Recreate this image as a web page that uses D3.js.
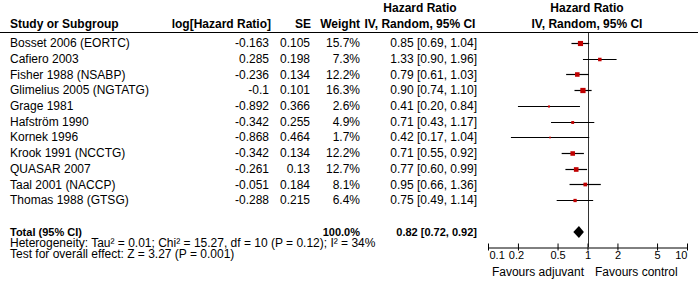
<!DOCTYPE html>
<meta charset="utf-8" />
<script src="https://d3js.org/d3.v7.min.js"></script>
<style>
  body { margin: 0; background: white; }
  svg { font-family: Arial, "Liberation Sans", sans-serif; }
  .hd { font-weight: bold; font-size: 12px; }
  .cell { font-size: 12px; }
  .foot { font-size: 12px; }
</style>
<body>
<svg id="forest" width="698" height="288"></svg>
<script>
  // study rows
  const studies = ["Bosset 2006 (EORTC)", "Cafiero 2003", "Fisher 1988 (NSABP)", "Glimelius 2005 (NGTATG)",
    "Grage 1981", "Hafström 1990", "Kornek 1996", "Krook 1991 (NCCTG)", "QUASAR 2007",
    "Taal 2001 (NACCP)", "Thomas 1988 (GTSG)"];
  const logHR = ["-0.163", "0.285", "-0.236", "-0.1", "-0.892", "-0.342", "-0.868", "-0.342", "-0.261", "-0.051", "-0.288"];
  const se = ["0.105", "0.198", "0.134", "0.101", "0.366", "0.255", "0.464", "0.134", "0.13", "0.184", "0.215"];
  const weight = [15.7, 7.3, 12.2, 16.3, 2.6, 4.9, 1.7, 12.2, 12.7, 8.1, 6.4];
  const hr = [0.85, 1.33, 0.79, 0.90, 0.41, 0.71, 0.42, 0.71, 0.77, 0.95, 0.75];
  const lower = [0.69, 0.90, 0.61, 0.74, 0.20, 0.43, 0.17, 0.55, 0.60, 0.66, 0.49];
  const upper = [1.04, 1.96, 1.03, 1.10, 0.84, 1.17, 1.04, 0.92, 0.99, 1.36, 1.14];

  // pooled estimate
  const total = {hr: 0.82, lo: 0.72, hi: 0.92};
  const axisTicks = [0.1, 0.2, 0.5, 1, 2, 5, 10];

  const svg = d3.select("#forest");
  const width = +svg.attr("width");

  const x = d3.scaleLog().domain([0.1, 10]).range([488, 687]);
  const y = d3.scalePoint().domain(studies).range([43, 200]);
  const yTotal = 232, yAxis = 247;

  const fmt = d3.format(".2f");

  // headers
  const hdr = svg.append("g").attr("class", "hd");
  hdr.append("text").attr("x", 10).attr("y", 28).text("Study or Subgroup");
  hdr.append("text").attr("x", 271).attr("y", 28).attr("text-anchor", "end").text("log[Hazard Ratio]");
  hdr.append("text").attr("x", 311).attr("y", 28).attr("text-anchor", "end").text("SE");
  hdr.append("text").attr("x", 360).attr("y", 28).attr("text-anchor", "end").text("Weight");
  hdr.append("text").attr("x", 420).attr("y", 12).attr("text-anchor", "middle").text("Hazard Ratio");
  hdr.append("text").attr("x", 420).attr("y", 28).attr("text-anchor", "middle").text("IV, Random, 95% CI");
  hdr.append("text").attr("x", 587).attr("y", 12).attr("text-anchor", "middle").text("Hazard Ratio");
  hdr.append("text").attr("x", 587).attr("y", 28).attr("text-anchor", "middle").text("IV, Random, 95% CI");

  svg.append("line").attr("x1", 0).attr("x2", width).attr("y1", 32.5).attr("y2", 32.5)
    .attr("stroke", "black").attr("stroke-width", 1);

  // table rows
  const rows = svg.append("g").attr("class", "cell").selectAll("g")
    .data(studies).join("g")
    .attr("transform", d => `translate(0,${y(d)})`);
  rows.append("text").attr("x", 10).attr("dy", "0.35em").text(d => d);
  rows.append("text").attr("x", 269).attr("dy", "0.35em").attr("text-anchor", "end").text((d, i) => logHR[i]);
  rows.append("text").attr("x", 310).attr("dy", "0.35em").attr("text-anchor", "end").text((d, i) => se[i]);
  rows.append("text").attr("x", 360).attr("dy", "0.35em").attr("text-anchor", "end").text((d, i) => weight[i].toFixed(1) + "%");
  rows.append("text").attr("x", 477).attr("dy", "0.35em").attr("text-anchor", "end")
    .text((d, i) => `${fmt(hr[i])} [${fmt(lower[i])}, ${fmt(upper[i])}]`);

  // line of no effect
  svg.append("line").attr("x1", Math.round(x(1)) + 0.5).attr("x2", Math.round(x(1)) + 0.5)
    .attr("y1", 33).attr("y2", yAxis).attr("stroke", "#333");

  // CI lines and squares
  const plot = svg.append("g").selectAll("g").data(studies).join("g");
  plot.append("line")
    .attr("x1", (d, i) => x(lower[i])).attr("x2", (d, i) => x(upper[i]))
    .attr("y1", d => Math.round(y(d)) + 0.5).attr("y2", d => Math.round(y(d)) + 0.5)
    .attr("stroke", "black").attr("stroke-width", 1.2);
  plot.append("rect")
    .each(function (d, i) {
      const s = 1.3 * Math.sqrt(weight[i]);
      d3.select(this).attr("x", x(hr[i]) - s / 2).attr("y", Math.round(y(d)) + 0.5 - s / 2)
        .attr("width", s).attr("height", s);
    })
    .attr("fill", "#c00000");

  // total row
  const tot = svg.append("g").attr("class", "hd").style("font-size", "11px");
  tot.append("text").attr("x", 10).attr("y", yTotal).attr("dy", "0.35em").text("Total (95% CI)");
  tot.append("text").attr("x", 360).attr("y", yTotal).attr("dy", "0.35em").attr("text-anchor", "end").text("100.0%");
  tot.append("text").attr("x", 477).attr("y", yTotal).attr("dy", "0.35em").attr("text-anchor", "end")
    .text(`${fmt(total.hr)} [${fmt(total.lo)}, ${fmt(total.hi)}]`);

  svg.append("path")
    .attr("d", `M${x(total.lo)},${yTotal} L${x(total.hr)},${yTotal - 6} L${x(total.hi)},${yTotal} L${x(total.hr)},${yTotal + 6} Z`)
    .attr("fill", "black");

  const foot = svg.append("g").attr("class", "foot");
  foot.append("text").attr("x", 10).attr("y", 243).attr("dy", "0.35em")
    .text("Heterogeneity: Tau\u00b2 = 0.01; Chi\u00b2 = 15.27, df = 10 (P = 0.12); I\u00b2 = 34%");
  foot.append("text").attr("x", 10).attr("y", 254).attr("dy", "0.35em")
    .text("Test for overall effect: Z = 3.27 (P = 0.001)");

  // axis
  const axis = d3.axisBottom(x).tickValues(axisTicks).tickFormat(d => d).tickSizeInner(-4).tickSizeOuter(0).tickPadding(6);
  const ag = svg.append("g").attr("transform", `translate(0,${yAxis + 0.5})`).call(axis);
  ag.select(".domain").attr("stroke", "black");
  ag.selectAll(".tick line").attr("stroke", "black").attr("y1", 3);
  ag.selectAll(".tick text").attr("font-size", 11).attr("font-family", "Arial, 'Liberation Sans', sans-serif")
    .attr("y", 4).attr("dy", "0.71em").attr("fill", "black")
    .attr("text-anchor", d => d === 0.1 ? "start" : d === 10 ? "end" : "middle")
    .attr("x", d => d === 0.1 ? 1 : d === 0.2 ? -2 : 0);

  const fav = svg.append("g").attr("class", "foot");
  fav.append("text").attr("x", 584).attr("y", 272).attr("dy", "0.35em").attr("text-anchor", "end").text("Favours adjuvant");
  fav.append("text").attr("x", 595).attr("y", 272).attr("dy", "0.35em").text("Favours control");
</script>
</body>
